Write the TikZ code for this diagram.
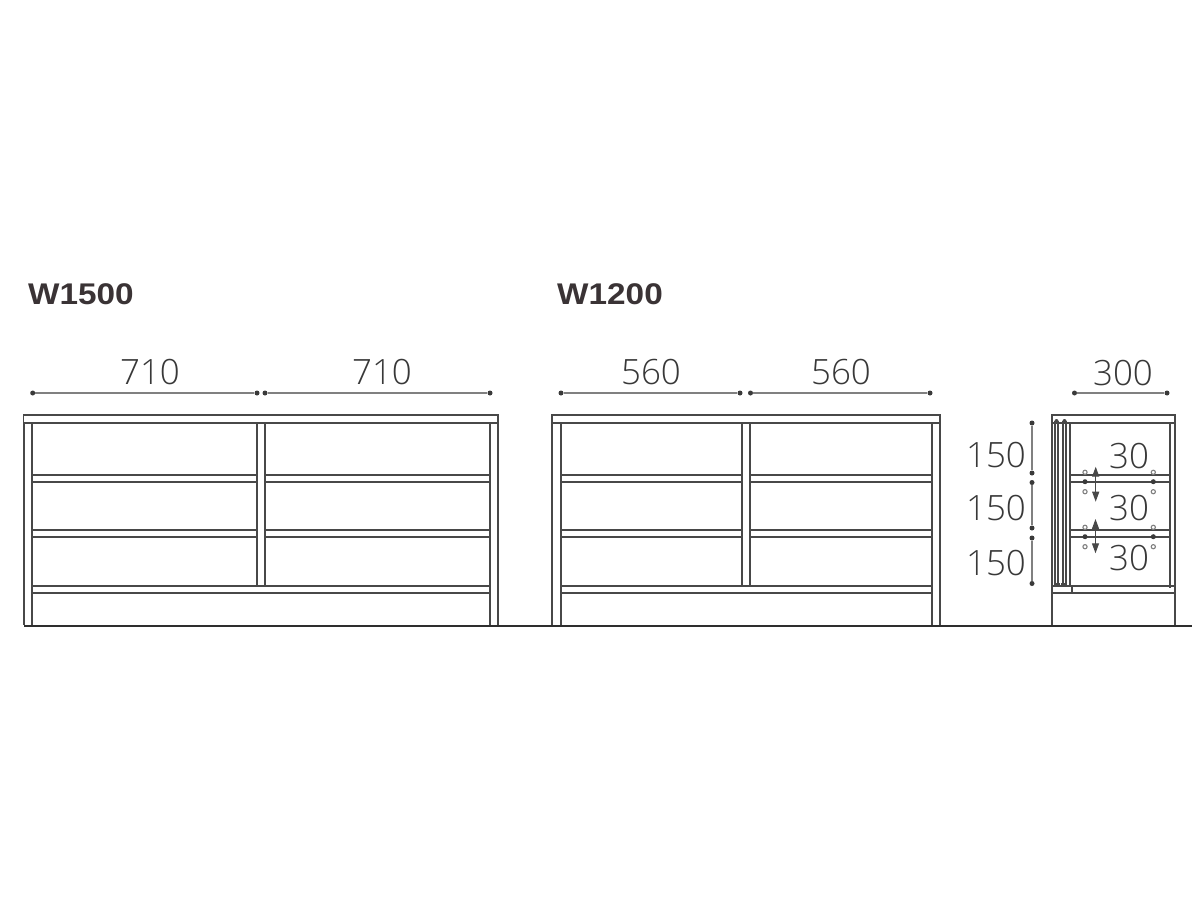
\documentclass[tikz,border=0pt]{standalone}
\usepackage{fontspec}
\setmainfont{Liberation Sans}
\newfontfamily\dimfont{Open Sans Light}
\newfontfamily\headfont[FakeStretch=1.115]{Liberation Sans Bold}
\usetikzlibrary{arrows.meta}
\definecolor{ink}{HTML}{484848}
\definecolor{grounddark}{HTML}{2E2E2E}
\definecolor{dotink}{HTML}{3A3A3A}
\definecolor{dimline}{HTML}{808080}
\definecolor{dimtext}{HTML}{383838}
\definecolor{title}{HTML}{3A3335}
\newcommand{\cabinet}[8]{% left-out, left-in, mid-l, mid-r, right-in, right-out, top-left, top-right
  \draw[board] (#7,415) rectangle (#8,423);
  \draw[board] (#1,423) -- (#1,625) (#2,423) -- (#2,625);
  \draw[board] (#5,423) -- (#5,625) (#6,423) -- (#6,625);
  \draw[board] (#3,423) -- (#3,586) (#4,423) -- (#4,586);
  \draw[board] (#2,475) -- (#3,475) (#2,482) -- (#3,482)
               (#4,475) -- (#5,475) (#4,482) -- (#5,482)
               (#2,530) -- (#3,530) (#2,537) -- (#3,537)
               (#4,530) -- (#5,530) (#4,537) -- (#5,537)
               (#2,586) -- (#5,586) (#2,593) -- (#5,593);
}
\newcommand{\dimh}[4]{% name, x1, x2, y
  \node[dimdot] (#1a) at (#2,#4) {};
  \node[dimdot] (#1b) at (#3,#4) {};
  \draw[dimrule] (#1a) -- (#1b);
}
\newcommand{\dimv}[4]{% name, x, y1, y2
  \node[dimdot] (#1a) at (#2,#3) {};
  \node[dimdot] (#1b) at (#2,#4) {};
  \draw[dimrule] (#1a) -- (#1b);
}
\tikzset{
  board/.style={draw=ink,line width=1.6bp},
  thickboard/.style={draw=ink,line width=2.6bp},
  dimrule/.style={draw=dimline,line width=1.3bp},
  dimdot/.style={circle,fill=dotink,draw=none,inner sep=0pt,minimum size=5bp},
  hole/.style={circle,draw=dimline,fill=white,line width=1.1bp,inner sep=0pt,minimum size=4.2bp},
  holefull/.style={circle,fill=dotink,draw=none,inner sep=0pt,minimum size=5bp},
  dimlabel/.style={text=dimtext,font=\dimfont\fontsize{35}{35}\selectfont,inner sep=0pt,anchor=center},
  headline/.style={text=title,font=\headfont\fontsize{30}{30}\selectfont,inner sep=0pt,anchor=west},
  twoarrow/.style={draw=ink,line width=1.2bp,{Triangle[length=10pt,width=7pt]}-{Triangle[length=10pt,width=7pt]}},
}
\begin{document}
\begin{tikzpicture}[x=1bp,y=-1bp]
\useasboundingbox (0,0) rectangle (1200,900);
\fill[white] (0,0) rectangle (1200,900);

\node[headline] (t1500) at (28,294) {W1500};
\node[headline] (t1200) at (557,294) {W1200};

\cabinet{24}{32}{257}{265}{490}{498}{23.5}{498}
\cabinet{552}{561}{742}{750}{932}{940}{552}{940}

\coordinate (groundL) at (24,625.5);
\coordinate (groundR) at (1192,625.5);
\draw[grounddark,line width=2bp] (groundL) -- (groundR);

% side view
\draw[board] (1052,415) rectangle (1175,423);
\draw[board] (1052,423) -- (1052,625) (1175,423) -- (1175,625);
\draw[board,line width=1.2bp] (1055,421) -- (1055,586) (1058,421) -- (1058,586);
\draw[thickboard] (1063,421) -- (1063,586);
\draw[board,line width=1.2bp] (1066,421) -- (1066,586);
\draw[thickboard] (1070,423) -- (1070,586);
\fill[ink] (1056.5,421) circle (2bp) (1064.5,421) circle (2bp);
\draw[thickboard,line width=2bp] (1170,422) -- (1170,588);
\draw[board] (1071,475) -- (1170,475) (1071,482) -- (1170,482)
             (1071,530) -- (1170,530) (1071,537) -- (1170,537);
\draw[board] (1052,586) -- (1175,586) (1052,593) -- (1175,593) (1072,586) -- (1072,593);
\draw[board,line width=1.1bp] (1055,586) -- (1055,584) -- (1059,584) -- (1059,586)
  (1062,586) -- (1062,584) -- (1066,584) -- (1066,586);

\foreach \hx/\hn in {1085/a,1153.3/b}{
  \node[hole] (h1\hn) at (\hx,472.3) {};
  \node[holefull] (h2\hn) at (\hx,481.7) {};
  \node[hole] (h3\hn) at (\hx,491.7) {};
  \node[hole] (h4\hn) at (\hx,527.3) {};
  \node[holefull] (h5\hn) at (\hx,536.7) {};
  \node[hole] (h6\hn) at (\hx,546.7) {};
}
\coordinate (a1t) at (1095.7,466.7);
\coordinate (a1b) at (1095.7,501.7);
\coordinate (a2t) at (1095.5,519);
\coordinate (a2b) at (1095.5,553.3);
\draw[twoarrow] (a1t) -- (a1b);
\draw[twoarrow] (a2t) -- (a2b);

% dimensions
\dimh{d1}{32.7}{257}{393}
\dimh{d2}{265}{490}{393}
\dimh{d3}{561}{740}{393}
\dimh{d4}{750.5}{930}{393}
\dimh{d5}{1074.5}{1167}{393}
\dimv{v1}{1032}{423}{473}
\dimv{v2}{1032}{482.5}{528}
\dimv{v3}{1032}{538}{583.5}

\node[dimlabel] (l1) at (150,372) {710};
\node[dimlabel] (l2) at (382,372) {710};
\node[dimlabel] (l3) at (651,372) {560};
\node[dimlabel] (l4) at (841,372) {560};
\node[dimlabel] (l5) at (1123,373) {300};
\node[dimlabel] (l6) at (996,455) {150};
\node[dimlabel] (l7) at (996,508) {150};
\node[dimlabel] (l8) at (996,563) {150};
\node[dimlabel] (l9) at (1129,456) {30};
\node[dimlabel] (l10) at (1129,508) {30};
\node[dimlabel] (l11) at (1129,558) {30};
\end{tikzpicture}
\end{document}
